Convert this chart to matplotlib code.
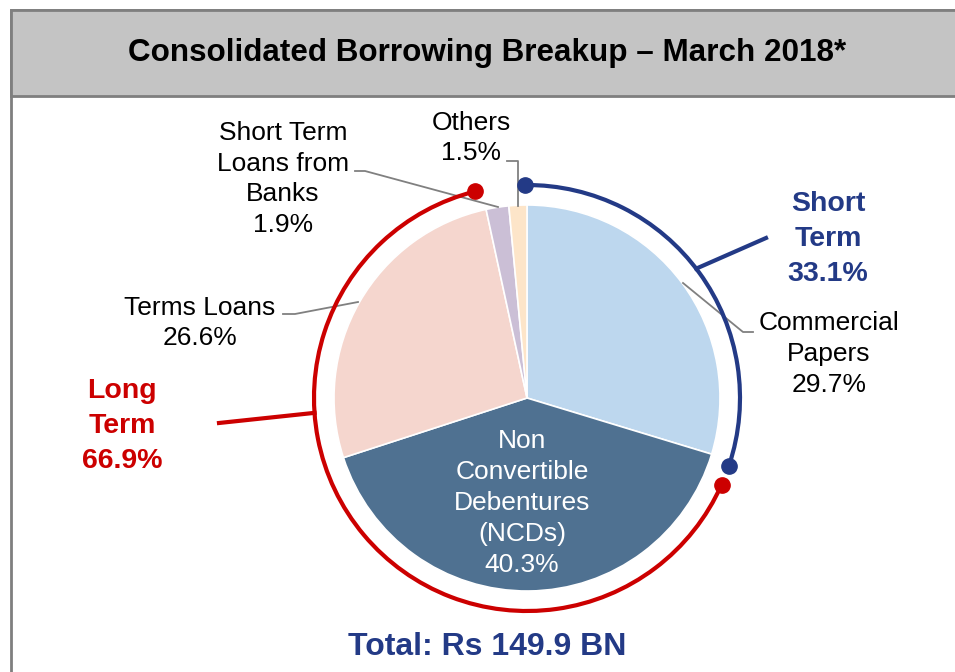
import matplotlib
matplotlib.use("Agg")
import matplotlib.pyplot as plt
from matplotlib.patches import Rectangle, Arc
import numpy as np

plt.rcParams['font.family'] = ['Liberation Sans', 'DejaVu Sans']

# ---- data ----
categories = ["Commercial Papers", "Non Convertible Debentures (NCDs)", "Terms Loans",
              "Short Term Loans from Banks", "Others"]
shares = [29.7, 40.3, 26.6, 1.9, 1.5]
slice_colors = ["#bdd7ee", "#4f7191", "#f5d6ce", "#cbbfd6", "#fde5c9"]
slice_labels = ["Commercial\nPapers\n29.7%", "Non\nConvertible\nDebentures\n(NCDs)\n40.3%",
                "Terms Loans\n26.6%", "Short Term\nLoans from\nBanks\n1.9%", "Others\n1.5%"]
group_labels = ["Short\nTerm\n33.1%", "Long\nTerm\n66.9%"]
title = "Consolidated Borrowing Breakup \u2013 March 2018*"
total_label = "Total: Rs 149.9 BN"

W, H = 955, 672
fig = plt.figure(figsize=(W / 100, H / 100), dpi=100)
ax = fig.add_axes([0, 0, 1, 1])
ax.set_xlim(0, W)
ax.set_ylim(0, H)
ax.set_aspect('equal')
ax.axis('off')

def py(y):  # pixel-from-top -> data y
    return H - y

NAVY = "#233a86"
RED = "#cc0000"
GRAY = "#808080"

# frame and title bar
ax.add_patch(Rectangle((10.5, -20), 1000, py(10) + 20, fill=False, edgecolor="#7f7f7f", lw=2, zorder=1))
ax.add_patch(Rectangle((10.5, py(96)), 1000, 86, facecolor="#c4c4c4", edgecolor="#7f7f7f", lw=2, zorder=2))
ax.text(487, py(53), title, ha='center', va='center', fontsize=22.6, fontweight='bold',
        color='black', zorder=3)

# pie
cx, cy = 527, py(398)
R = 193
ax.pie(shares, colors=slice_colors, startangle=90, counterclock=False,
       center=(cx, cy), radius=R, frame=True,
       wedgeprops=dict(edgecolor='white', linewidth=1.2))
ax.set_xlim(0, W)
ax.set_ylim(0, H)
ax.axis('off')

# ring arcs
Rr = 213
def pt(angle, r=Rr):
    a = np.deg2rad(angle)
    return cx + r * np.cos(a), cy + r * np.sin(a)

ax.add_patch(Arc((cx, cy), 2 * Rr, 2 * Rr, theta1=-18.5, theta2=90.5, color=NAVY, lw=3, zorder=4))
ax.add_patch(Arc((cx, cy), 2 * Rr, 2 * Rr, theta1=104, theta2=336, color=RED, lw=3, zorder=4))
for ang, c in [(-18.5, NAVY), (90.5, NAVY), (104, RED), (336, RED)]:
    x, y = pt(ang)
    ax.plot([x], [y], 'o', color=c, markersize=11, zorder=5)

# group leaders
x0, y0 = pt(37.4)
ax.plot([x0, 766], [y0, py(238)], color=NAVY, lw=3, zorder=4)
x0, y0 = pt(184)
ax.plot([x0, 219], [y0, py(423)], color=RED, lw=3, zorder=4)

# group labels
ax.text(828, py(239), group_labels[0], ha='center', va='center', fontsize=20.5,
        fontweight='bold', color=NAVY, linespacing=1.45, zorder=6)
ax.text(122, py(426), group_labels[1], ha='center', va='center', fontsize=20.5,
        fontweight='bold', color=RED, linespacing=1.45, zorder=6)

# slice leaders
leaders = [
    [(753, 332), (743, 332), (683, 283)],
    None,
    [(283, 314), (295, 314), (358, 302)],
    [(355, 171), (365, 171), (498, 207)],
    [(507, 161), (518, 161), (518, 206)],
]
for pts in leaders:
    if pts is None:
        continue
    xs = [p[0] for p in pts]
    ys = [py(p[1]) for p in pts]
    ax.plot(xs, ys, color=GRAY, lw=1.3, zorder=3)

# slice labels
label_pos = [(829, 354), (522, 503), (200, 323), (283, 179), (471, 138)]
for lab, (lx, ly), i in zip(slice_labels, label_pos, range(5)):
    ax.text(lx, py(ly), lab, ha='center', va='center', fontsize=19,
            color='white' if i == 1 else 'black', linespacing=1.36, zorder=6)

ax.text(487, py(647), total_label, ha='center', va='center', fontsize=23,
        fontweight='bold', color=NAVY, zorder=6)

fig.savefig("out.png", dpi=100)
